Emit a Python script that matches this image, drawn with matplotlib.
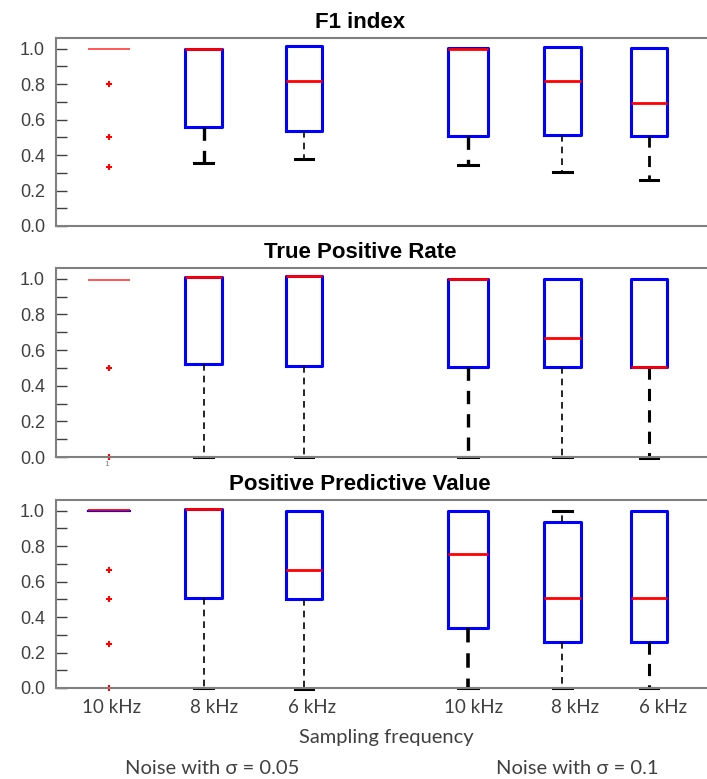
import matplotlib
matplotlib.use("Agg")
import matplotlib.pyplot as plt
from matplotlib.ticker import MultipleLocator

titles = ["F1 index", "True Positive Rate", "Positive Predictive Value"]
freq_labels = ["10 kHz", "8 kHz", "6 kHz", "10 kHz", "8 kHz", "6 kHz"]
noise_labels = ["Noise with σ = 0.05", "Noise with σ = 0.1"]
xlabel = "Sampling frequency"

# F1 index
f1_med = [1.0, 1.0, 0.82, 1.0, 0.815, 0.695]
f1_q1 = [1.0, 0.558, 0.534, 0.509, 0.515, 0.509]
f1_q3 = [1.0, 1.0, 1.017, 1.004, 1.011, 1.004]
f1_lo = [1.0, 0.354, 0.375, 0.343, 0.305, 0.262]
f1_hi = [1.0, 1.0, 1.017, 1.004, 1.011, 1.004]
f1_out = [[0.8, 0.5, 0.333], [], [], [], [], []]

# True Positive Rate
tpr_med = [0.994, 1.007, 1.015, 0.998, 0.67, 0.505]
tpr_q1 = [0.994, 0.523, 0.51, 0.505, 0.505, 0.505]
tpr_q3 = [0.994, 1.007, 1.015, 0.998, 1.0, 1.0]
tpr_lo = [0.994, 0.0, 0.0, 0.0, 0.0, -0.005]
tpr_hi = [0.994, 1.007, 1.015, 0.998, 1.0, 1.0]
tpr_out = [[0.5, 0.0], [], [], [], [], []]

# Positive Predictive Value
ppv_med = [1.003, 1.007, 0.667, 0.754, 0.505, 0.505]
ppv_q1 = [0.998, 0.505, 0.5, 0.341, 0.257, 0.257]
ppv_q3 = [0.998, 1.007, 1.0, 1.0, 0.938, 1.0]
ppv_lo = [0.998, 0.0, -0.005, 0.0, 0.0, 0.0]
ppv_hi = [0.998, 1.007, 1.0, 1.0, 1.0, 1.0]
ppv_out = [[0.667, 0.5, 0.25, 0.0], [], [], [], [], []]

panels = [
    (f1_med, f1_q1, f1_q3, f1_lo, f1_hi, f1_out),
    (tpr_med, tpr_q1, tpr_q3, tpr_lo, tpr_hi, tpr_out),
    (ppv_med, ppv_q1, ppv_q3, ppv_lo, ppv_hi, ppv_out),
]

# layout / style
positions = [1.0, 1.98, 3.02, 4.72, 5.70, 6.60]
label_pos = [1.03, 2.09, 3.11, 4.78, 5.83, 6.74]
box_widths = [0.44, 0.38, 0.38, 0.42, 0.39, 0.37]
whisker_lw = [[1, 2.4, 1.2, 2.4, 1.2, 2.0],
              [1, 1.2, 1.2, 2.4, 1.2, 2.2],
              [1, 1.2, 1.2, 2.6, 1.2, 2.2]]
show_first_box = [False, False, True]

W, H = 707, 779
fig = plt.figure(figsize=(W / 100, H / 100), dpi=100)
axes_px = [(38, 226), (268, 457), (500, 688)]
gray = "#404040"
spine_gray = "#808080"

for i, ((top, bot), data) in enumerate(zip(axes_px, panels)):
    ax = fig.add_axes([56 / W, 1 - bot / H, 1 - 56 / W, (bot - top) / H])
    med, q1, q3, lo, hi, out = data
    stats = []
    for k in range(len(med)):
        stats.append(dict(med=med[k], q1=q1[k], q3=q3[k], whislo=lo[k],
                          whishi=hi[k], fliers=out[k]))
    res = ax.bxp(stats, positions=positions, widths=box_widths,
                 manage_ticks=False,
                 boxprops=dict(color="blue", lw=2.2),
                 medianprops=dict(color="red", lw=2),
                 whiskerprops=dict(color="black", lw=1.2, ls=(0, (4, 3))),
                 capprops=dict(color="black", lw=2.2),
                 flierprops=dict(marker="+", markeredgecolor="red",
                                 markersize=4, mew=1.5, ls="none"))
    for fl in res["fliers"]:
        fl.set_clip_on(False)
    # first (degenerate) box: thin line only
    res["medians"][0].set_linewidth(1.3)
    if not show_first_box[i]:
        res["medians"][0].set_color("#ff4a4a")
        res["boxes"][0].set_visible(False)
    else:
        res["boxes"][0].set_linewidth(1.5)
    for k in range(len(med)):
        wl, wh = res["whiskers"][2 * k], res["whiskers"][2 * k + 1]
        cl, ch = res["caps"][2 * k], res["caps"][2 * k + 1]
        wl.set_linewidth(whisker_lw[i][k])
        wh.set_linewidth(whisker_lw[i][k])
        if lo[k] >= q1[k]:
            wl.set_visible(False)
            cl.set_visible(False)
        if hi[k] <= q3[k]:
            wh.set_visible(False)
            ch.set_visible(False)
        for a in (wl, wh, cl, ch):
            a.set_clip_on(False)
    ax.set_xlim(0.45, 7.2)
    ax.set_ylim(0, 1.06)
    ax.yaxis.set_major_locator(MultipleLocator(0.2))
    ax.yaxis.set_minor_locator(MultipleLocator(0.1))
    ax.tick_params(axis="y", which="both", direction="in", length=8,
                   width=1, color=gray, labelcolor=gray, labelsize=13,
                   pad=8)
    ax.set_yticklabels([f"{v:.1f}" for v in ax.get_yticks()],
                       family="Liberation Sans")
    ax.spines["right"].set_visible(False)
    for s in ("left", "top", "bottom"):
        ax.spines[s].set_color(spine_gray)
        ax.spines[s].set_linewidth(1.5)
    ax.set_title(titles[i], x=(360 - 56) / (W - 56), fontsize=16,
                 fontweight="bold", family="Liberation Sans", pad=7)
    if i < 2:
        ax.set_xticks([])
    else:
        ax.set_xticks(label_pos)
        ax.set_xticklabels(freq_labels, family="Lato", fontsize=13.5,
                           color=gray)
        ax.tick_params(axis="x", length=0, pad=8)

# small stray label under the first box of the middle panel
fig.text(107 / W, 1 - 464 / H, "1", ha="center", va="center",
         family="Liberation Sans", fontsize=6, color="#808080")

fig.text(386 / W, 1 - 738 / H, xlabel, ha="center", va="center",
         family="Lato", fontsize=14.5, color=gray)
fig.text(212 / W, 1 - 768 / H, noise_labels[0], ha="center", va="center",
         family="Lato", fontsize=14.5, color=gray)
fig.text(577 / W, 1 - 768 / H, noise_labels[1], ha="center", va="center",
         family="Lato", fontsize=14.5, color=gray)

fig.savefig("out.png", dpi=100)
